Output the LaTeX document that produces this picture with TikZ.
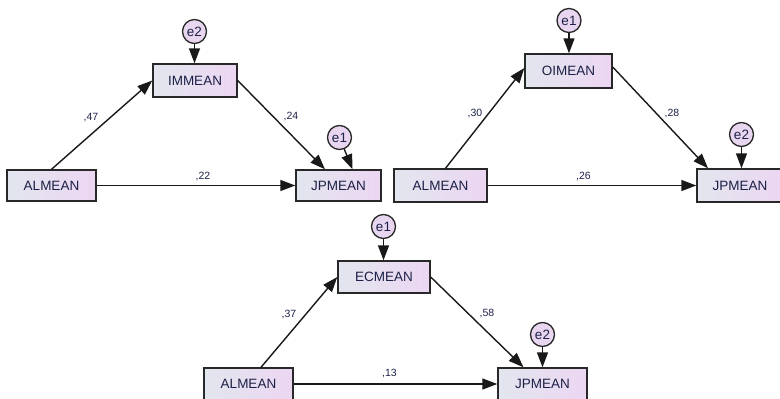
\documentclass[tikz,border=0pt]{standalone}
\usepackage{fontspec}
\usepackage{tikz}
\usetikzlibrary{positioning,arrows.meta,calc}
\newfontfamily\amosfont{Liberation Sans}
\definecolor{boxleft}{RGB}{226,230,238}
\definecolor{boxright}{RGB}{236,214,242}
\definecolor{errfill}{RGB}{232,214,240}
\definecolor{rim}{RGB}{40,40,40}
\definecolor{ink}{RGB}{28,32,70}
\tikzset{
  obsvar/.style={rectangle,draw=rim,line width=1.4pt,left color=boxleft,right color=boxright,
    minimum width=88pt,minimum height=32pt,inner sep=0pt,text=ink,font=\amosfont\fontsize{13.5}{16}\selectfont},
  errvar/.style={circle,draw=rim,line width=1.3pt,fill=errfill,minimum size=24pt,inner sep=0pt,
    text=ink,font=\amosfont\fontsize{13.5}{16}\selectfont},
  regpath/.style={-{Triangle[length=15pt,width=11pt]},line width=1.4pt,draw=black!90},
  coef/.style={text=ink,font=\amosfont\fontsize{10.5}{12}\selectfont,inner sep=0pt}
}

\begin{document}
\begin{tikzpicture}[x=1pt,y=-1pt]
        \useasboundingbox (0,0) rectangle (780,399);
        \clip (0,0) rectangle (780,399);
        % first model
        \node[obsvar,minimum width=84pt,minimum height=33pt] (im) at (195,80.5) {IMMEAN};
        \node[obsvar,minimum width=89pt,minimum height=31pt] (al1) at (51.5,185.5) {ALMEAN};
        \node[obsvar,minimum width=85pt,minimum height=31pt] (jp1) at (338.5,185.5) {JPMEAN};
        \node[errvar] (im-e) at (194.5,31.5) {e2};
        \node[errvar] (jp1-e) at (339.5,137.5) {e1};
        \draw[regpath] (im-e) -- (im-e |- im.north);
        \draw[regpath] (jp1-e) -- ([xshift=14pt]jp1.north);
        \draw[regpath] (al1.north) -- (im.west);
        \draw[regpath] (im.east) -- ([xshift=-13.5pt]jp1.north);
        \draw[regpath] (al1) -- (jp1);
        \node[coef] at (91,118) {,47};
        \node[coef] at (291,117) {,24};
        \node[coef] at (203,176.5) {,22};
        % second model
        \node[obsvar,minimum width=87pt,minimum height=34pt] (oi) at (568.5,71) {OIMEAN};
        \node[obsvar,minimum width=93pt,minimum height=33pt] (al2) at (440.5,185.5) {ALMEAN};
        \node[obsvar,minimum width=86pt,minimum height=33pt] (jp2) at (740,185.5) {JPMEAN};
        \node[errvar] (oi-e) at (569,20.5) {e1};
        \node[errvar] (jp2-e) at (741.5,134.5) {e2};
        \draw[regpath] (oi-e) -- (oi-e |- oi.north);
        \draw[regpath] (jp2-e) -- (jp2-e |- jp2.north);
        \draw[regpath] ([xshift=5pt]al2.north) -- ([yshift=3pt]oi.west);
        \draw[regpath] ([yshift=4pt]oi.east) -- ([xshift=-32pt]jp2.north);
        \draw[regpath] (al2) -- (jp2);
        \node[coef] at (475,113.5) {,30};
        \node[coef] at (672,113.5) {,28};
        \node[coef] at (583.5,176.5) {,26};
        % third model
        \node[obsvar,minimum width=92pt,minimum height=32pt] (ec) at (384,277) {ECMEAN};
        \node[obsvar,minimum width=89pt,minimum height=32pt] (al3) at (248.5,384) {ALMEAN};
        \node[obsvar,minimum width=89pt,minimum height=32pt] (jp3) at (542.5,384) {JPMEAN};
        \node[errvar] (ec-e) at (383.5,226.5) {e1};
        \node[errvar] (jp3-e) at (542.5,334.5) {e2};
        \draw[regpath] (ec-e) -- (ec-e |- ec.north);
        \draw[regpath] (jp3-e) -- (jp3-e |- jp3.north);
        \draw[regpath] ([xshift=12.5pt]al3.north) -- (ec.west);
        \draw[regpath] (ec.east) -- ([xshift=-19pt]jp3.north);
        \draw[regpath] (al3) -- (jp3);
        \node[coef] at (289,314.5) {,37};
        \node[coef] at (487,313.5) {,58};
        \node[coef] at (389.5,374) {,13};
      \end{tikzpicture}
\end{document}
